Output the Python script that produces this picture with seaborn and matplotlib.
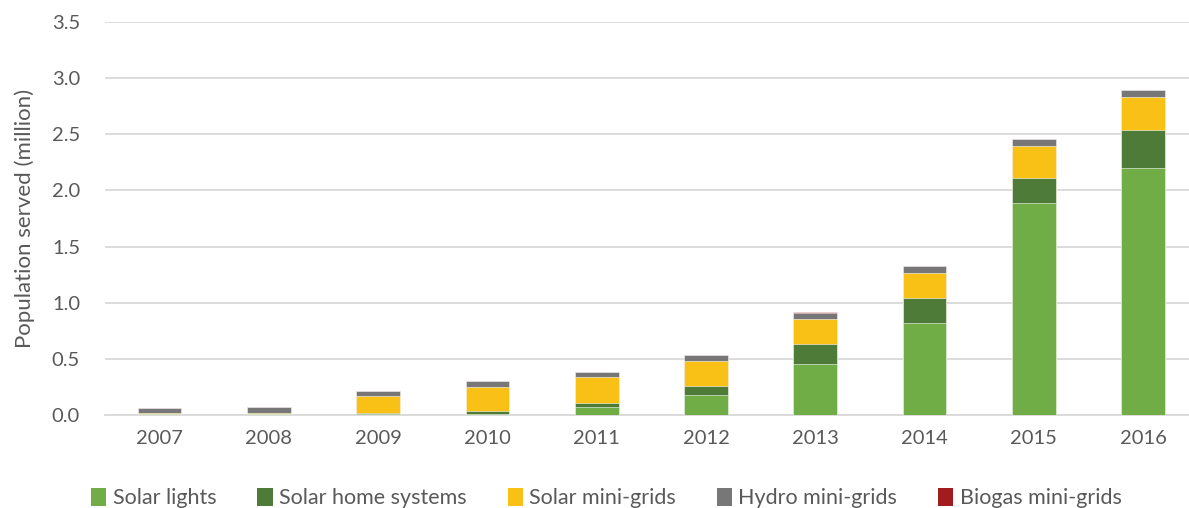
import matplotlib
matplotlib.use("Agg")
import matplotlib.pyplot as plt
import seaborn as sns
import pandas as pd
import numpy as np
from matplotlib.patches import Patch

years = ["2007", "2008", "2009", "2010", "2011", "2012", "2013", "2014", "2015", "2016"]
solar_lights = [0.005, 0.005, 0.010, 0.005, 0.070, 0.178, 0.454, 0.820, 1.888, 2.197]
solar_home_systems = [0.005, 0.005, 0.010, 0.035, 0.040, 0.082, 0.176, 0.222, 0.220, 0.341]
solar_mini_grids = [0.005, 0.008, 0.145, 0.210, 0.225, 0.225, 0.225, 0.222, 0.290, 0.292]
hydro_mini_grids = [0.050, 0.050, 0.050, 0.050, 0.045, 0.050, 0.055, 0.063, 0.057, 0.060]
biogas_mini_grids = [0.000, 0.000, 0.000, 0.000, 0.004, 0.003, 0.003, 0.003, 0.003, 0.004]

series_names = ["Solar lights", "Solar home systems", "Solar mini-grids", "Hydro mini-grids", "Biogas mini-grids"]
series_values = [solar_lights, solar_home_systems, solar_mini_grids, hydro_mini_grids, biogas_mini_grids]
colors = ["#70AD47", "#4E7B37", "#F9C116", "#777777", "#A01C1E"]

sns.set_theme(style="white")
plt.rcParams["font.family"] = ["Lato", "DejaVu Sans"]

fig = plt.figure(figsize=(11.89, 5.08), dpi=100)
ax = fig.add_axes([105 / 1189, 93 / 508, 1 - 105 / 1189, (415 - 22) / 508])

cum = np.cumsum(np.array(series_values), axis=0)
# draw from top layer down so lower layers overlay upper ones
for i in range(len(series_names) - 1, -1, -1):
    df = pd.DataFrame({"year": years, "value": cum[i]})
    sns.barplot(data=df, x="year", y="value", color=colors[i], width=0.4,
                saturation=1, ax=ax, edgecolor="white", linewidth=0.4, zorder=3)

ax.set_ylim(0, 3.5)
ax.set_xlim(-0.5, 9.42)
ax.set_yticks(np.arange(0, 3.51, 0.5))
ax.set_yticklabels([f"{v:.1f}" for v in np.arange(0, 3.51, 0.5)])
ax.yaxis.grid(True, color="#D9D9D9", linewidth=1.3, zorder=0)
ax.set_axisbelow(True)
for s in ["top", "right", "left"]:
    ax.spines[s].set_visible(False)
ax.spines["bottom"].set_color("#D9D9D9")
ax.spines["bottom"].set_linewidth(1.3)
ax.tick_params(axis="both", length=0, labelsize=14.5, colors="#595959")
ax.tick_params(axis="x", pad=11)
ax.tick_params(axis="y", pad=18)
ax.set_xlabel("")
ax.set_ylabel("Population served (million)", fontsize=16, color="#595959", labelpad=12)

handles = [Patch(facecolor=c, edgecolor="none") for c in colors]
fig.legend(handles, series_names, loc="center", bbox_to_anchor=(0.51, 10 / 508), ncol=5,
           frameon=False, fontsize=15.5, handlelength=0.7, handleheight=0.9,
           handletextpad=0.3, columnspacing=1.9, labelcolor="#595959")

fig.savefig("out.png", dpi=100)
